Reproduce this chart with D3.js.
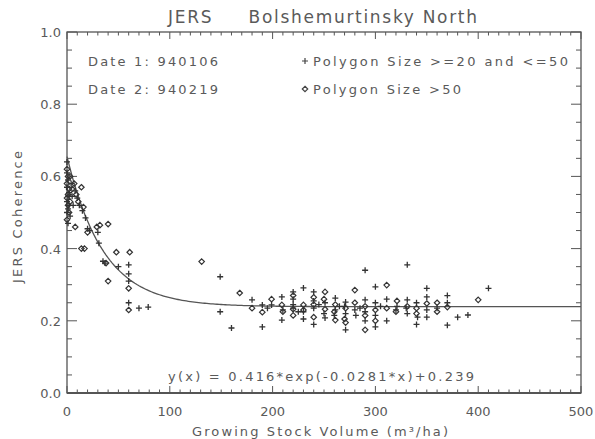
<!DOCTYPE html>
<html><head><meta charset="utf-8">
<script src="https://cdn.jsdelivr.net/npm/d3@7/dist/d3.min.js"></script>
<style>body{margin:0;background:#fff}svg{display:block}text{font-family:"DejaVu Sans",sans-serif;fill:#5a5a5a}</style>
</head><body>
<script>
const titleText = "JERS     Bolshemurtinsky North";
const xTitle = "Growing Stock Volume (m³/ha)";
const yTitle = "JERS Coherence";
const xTickValues = [0,100,200,300,400,500];
const xTickLabels = ["0","100","200","300","400","500"];
const yTickValues = [0,0.2,0.4,0.6,0.8,1.0];
const yTickLabels = ["0.0","0.2","0.4","0.6","0.8","1.0"];
const dateLabels = ["Date 1: 940106","Date 2: 940219"];
const legendLabels = ["Polygon Size >=20 and <=50","Polygon Size >50"];
const equationText = "y(x) = 0.416*exp(-0.0281*x)+0.239";
const fitParams = [0.416, 0.0281, 0.239];

// Series 1: plus symbols (polygon size 20-50)
const plusV = [0,0,1,0,2,1,0,2,1,0,3,1,4,5,6,8,10,12,15,18,20,22,30,31,35,37,50,60,60,60,60,70,79,
  149,149,160,180,190,190,199,209,209,220,220,220,230,230,240,240,240,251,251,261,261,271,271,271,280,
  290,290,290,300,300,300,311,311,321,331,331,331,340,340,350,350,350,360,370,370,380,390,410,
  210,220,230,240,250,260,270,281,290,300,320,330,341,350,370,195,225,245,265,285,305];
const plusC = [0.64,0.61,0.59,0.57,0.555,0.545,0.53,0.52,0.51,0.50,0.49,0.47,0.58,0.545,0.52,0.56,0.54,0.52,0.505,0.485,0.455,0.45,0.445,0.415,0.365,0.36,0.35,0.355,0.33,0.31,0.25,0.235,0.238,
  0.322,0.225,0.18,0.258,0.244,0.183,0.244,0.266,0.202,0.28,0.26,0.245,0.291,0.205,0.28,0.235,0.19,0.25,0.208,0.263,0.23,0.252,0.22,0.175,0.23,
  0.34,0.258,0.2,0.294,0.25,0.183,0.26,0.2,0.24,0.355,0.258,0.22,0.25,0.19,0.29,0.266,0.23,0.235,0.27,0.188,0.21,0.216,0.29,
  0.23,0.235,0.225,0.255,0.22,0.215,0.24,0.215,0.225,0.215,0.23,0.235,0.21,0.21,0.25,0.235,0.225,0.245,0.24,0.235,0.24];

// Series 2: diamond symbols (polygon size > 50)
const diaV = [0,1,0,2,1,0,3,1,2,0,3,5,7,9,14,11,16,8,20,29,32,40,14,17,38,48,61,40,60,60,
  131,168,180,190,199,209,220,220,230,240,240,251,251,261,261,271,271,280,280,290,290,300,311,311,321,331,340,350,360,370,400,
  210,230,250,260,270,290,300,320,340,360,220,240];
const diaC = [0.62,0.60,0.58,0.565,0.55,0.54,0.53,0.52,0.50,0.48,0.60,0.565,0.58,0.55,0.57,0.53,0.515,0.46,0.445,0.46,0.465,0.468,0.40,0.40,0.36,0.39,0.39,0.31,0.29,0.23,
  0.364,0.277,0.235,0.224,0.26,0.244,0.27,0.232,0.244,0.265,0.21,0.28,0.232,0.245,0.202,0.235,0.195,0.285,0.25,0.24,0.175,0.23,0.299,0.235,0.255,0.24,0.22,0.248,0.25,0.238,0.258,
  0.225,0.23,0.26,0.225,0.205,0.215,0.2,0.225,0.235,0.225,0.215,0.245];

const W = 595, H = 439;
const svg = d3.select("body").append("svg").attr("width", W).attr("height", H);
const x = d3.scaleLinear().domain([0,500]).range([67,581]);
const y = d3.scaleLinear().domain([0,1]).range([393,32]);
const axisColor = "#555";

// frame
const frame = svg.append("g").attr("stroke", axisColor).attr("fill","none");
frame.append("rect").attr("x", x(0)).attr("y", y(1)).attr("width", x(500)-x(0)).attr("height", y(0)-y(1)).attr("stroke-width",1.3);
frame.append("line").attr("x1", x(0)).attr("x2", x(500)).attr("y1", y(0)).attr("y2", y(0)).attr("stroke-width",2);

// x ticks (bottom and top, inward)
const xMinor = d3.range(0, 501, 10);
xMinor.forEach(v => {
  const major = v % 100 === 0;
  const len = major ? 7 : 3.5;
  frame.append("line").attr("x1", x(v)).attr("x2", x(v)).attr("y1", y(0)).attr("y2", y(0)-len);
  frame.append("line").attr("x1", x(v)).attr("x2", x(v)).attr("y1", y(1)).attr("y2", y(1)+len);
});
// y ticks (left and right, inward)
const yMinor = d3.range(0, 21).map(i => i*0.05);
yMinor.forEach((v,i) => {
  const major = i % 4 === 0;
  const len = major ? 10 : 5;
  frame.append("line").attr("y1", y(v)).attr("y2", y(v)).attr("x1", x(0)).attr("x2", x(0)+len);
  frame.append("line").attr("y1", y(v)).attr("y2", y(v)).attr("x1", x(500)).attr("x2", x(500)-len);
});

// tick labels
svg.append("g").selectAll("text").data(xTickValues).join("text")
  .attr("x", d => x(d)).attr("y", 416).attr("text-anchor","middle").attr("font-size",13)
  .text((d,i) => xTickLabels[i]);
svg.append("g").selectAll("text").data(yTickValues).join("text")
  .attr("x", 61).attr("y", d => y(d)+5).attr("text-anchor","end").attr("font-size",13)
  .text((d,i) => yTickLabels[i]);

// titles
svg.append("text").attr("x",168).attr("y",23).attr("font-size",17).attr("textLength",309).attr("lengthAdjust","spacing").style("white-space","pre").text(titleText);
svg.append("text").attr("x",192).attr("y",436).attr("font-size",13).attr("textLength",256).attr("lengthAdjust","spacing").text(xTitle);
svg.append("text").attr("transform","translate(22,283) rotate(-90)").attr("font-size",13).attr("textLength",132).attr("lengthAdjust","spacing").text(yTitle);

// date labels
dateLabels.forEach((t,i) => {
  svg.append("text").attr("x",88).attr("y",66+i*28).attr("font-size",13).attr("textLength",130).attr("lengthAdjust","spacing").text(t);
});
// legend
const legW = [255,148];
legendLabels.forEach((t,i) => {
  svg.append("text").attr("x",313).attr("y",66+i*28).attr("font-size",13).attr("textLength",legW[i]).attr("lengthAdjust","spacing").text(t);
});

// symbols
const plusSym = { draw(ctx, size){ const r = Math.sqrt(size)/2; ctx.moveTo(-r,0); ctx.lineTo(r,0); ctx.moveTo(0,-r); ctx.lineTo(0,r); } };
const diaSym = { draw(ctx, size){ const r = Math.sqrt(size)/2; ctx.moveTo(0,-r); ctx.lineTo(r,0); ctx.lineTo(0,r); ctx.lineTo(-r,0); ctx.closePath(); } };
const plusPath = d3.symbol(plusSym, 36)();
const diaPath = d3.symbol(diaSym, 30)();

svg.append("path").attr("d", plusPath).attr("transform","translate(305,61)").attr("stroke","#444").attr("fill","none").attr("stroke-width",1.2);
svg.append("path").attr("d", diaPath).attr("transform","translate(305,89)").attr("stroke","#444").attr("fill","none").attr("stroke-width",1.2);

// fit curve
const curveX = d3.range(0, 500.5, 2);
const line = d3.line().x(d => x(d)).y(d => y(fitParams[0]*Math.exp(-fitParams[1]*d)+fitParams[2]));
svg.append("path").datum(curveX).attr("d", line).attr("fill","none").attr("stroke","#555").attr("stroke-width",1.3);

// points
const pts = svg.append("g");
pts.selectAll(".p").data(plusV.map((v,i)=>[v,plusC[i]])).join("path").attr("class","p")
  .attr("d", plusPath).attr("transform", d => `translate(${x(d[0])},${y(d[1])})`)
  .attr("stroke","#333").attr("fill","none").attr("stroke-width",1.3);
pts.selectAll(".d").data(diaV.map((v,i)=>[v,diaC[i]])).join("path").attr("class","d")
  .attr("d", diaPath).attr("transform", d => `translate(${x(d[0])},${y(d[1])})`)
  .attr("stroke","#333").attr("fill","none").attr("stroke-width",1.2);

// equation
svg.append("text").attr("x",168).attr("y",381).attr("font-size",13).attr("textLength",306).attr("lengthAdjust","spacing").text(equationText);
</script>
</body></html>
